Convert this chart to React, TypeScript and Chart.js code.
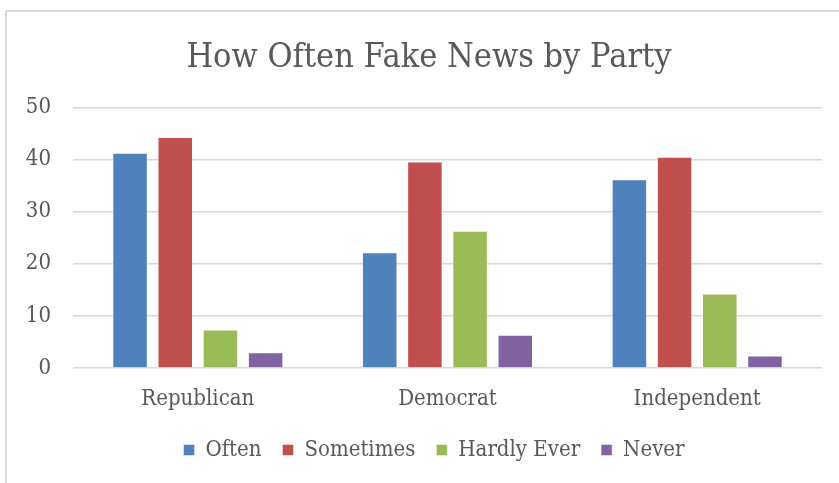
import React, { useEffect, useRef } from "react";
import { Chart, registerables } from "chart.js";

Chart.register(...registerables);

const categories = ["Republican", "Democrat", "Independent"];
const seriesNames = ["Often", "Sometimes", "Hardly Ever", "Never"];
const often = [41.3, 22.2, 36.2];
const sometimes = [44.3, 39.6, 40.5];
const hardlyEver = [7.4, 26.3, 14.3];
const never = [3.0, 6.4, 2.4];
const yTicks = [0, 10, 20, 30, 40, 50];
const colors = ["#4F81BD", "#C0504D", "#9BBB59", "#8064A2"];

const FONT = "'DejaVu Serif Condensed', 'DejaVu Serif', serif";
const TEXT = "#595959";

const shiftPlugin = {
  id: "shiftBoxes",
  afterLayout(chart: any) {
    if (chart.titleBlock) {
      chart.titleBlock.left += 8;
      chart.titleBlock.right += 8;
    }
    if (chart.legend) {
      chart.legend.left += 13;
      chart.legend.right += 13;
    }
  },
};

export default function App() {
  const ref = useRef<HTMLCanvasElement | null>(null);
  useEffect(() => {
    if (!ref.current) return;
    const values = [often, sometimes, hardlyEver, never];
    const chart = new Chart(ref.current, {
      type: "bar",
      data: {
        labels: categories,
        datasets: seriesNames.map((name, i) => ({
          label: name,
          data: values[i],
          backgroundColor: colors[i],
          borderColor: "rgba(255,255,255,0.45)",
          borderWidth: 1,
          categoryPercentage: 0.724,
          barPercentage: 0.786,
        })),
      },
      plugins: [shiftPlugin],
      options: {
        animation: false,
        responsive: false,
        maintainAspectRatio: false,
        layout: { padding: { left: 20, right: 17, top: 0, bottom: 12 } },
        plugins: {
          title: {
            display: true,
            text: "How Often Fake News by Party",
            color: TEXT,
            font: { family: FONT, size: 34, weight: "normal" },
            padding: { top: 37.6, bottom: 28.9 },
          },
          legend: {
            position: "bottom",
            labels: {
              color: TEXT,
              font: { family: FONT, size: 22 },
              boxWidth: 11,
              boxHeight: 11,
              padding: 21,
            },
          },
          tooltip: { enabled: false },
        },
        scales: {
          x: {
            grid: { display: false, drawTicks: false },
            border: { display: false },
            ticks: { color: TEXT, font: { family: FONT, size: 22 }, padding: 18 },
            afterFit: (s: any) => {
              s.height = 50;
            },
          },
          y: {
            min: 0,
            max: 50,
            afterBuildTicks: (s: any) => {
              s.ticks = yTicks.map((v) => ({ value: v }));
            },
            grid: { color: "#D9D9D9", lineWidth: 1.5, drawTicks: false },
            border: { display: false },
            ticks: { color: TEXT, font: { family: FONT, size: 22 }, padding: 22 },
            afterFit: (s: any) => {
              s.width = 53;
            },
          },
        },
      },
    });
    return () => chart.destroy();
  }, []);
  return (
    <div style={{ position: "fixed", left: 0, top: 0, width: 839, height: 483, background: "#fff", overflow: "hidden" }}>
      <div
        style={{
          position: "absolute",
          left: 5,
          top: 10,
          width: 900,
          height: 600,
          border: "2px solid #D9D9D9",
          boxSizing: "border-box",
        }}
      />
      <canvas ref={ref} width={839} height={483} style={{ position: "absolute", left: 0, top: 0, width: 839, height: 483 }} />
    </div>
  );
}
